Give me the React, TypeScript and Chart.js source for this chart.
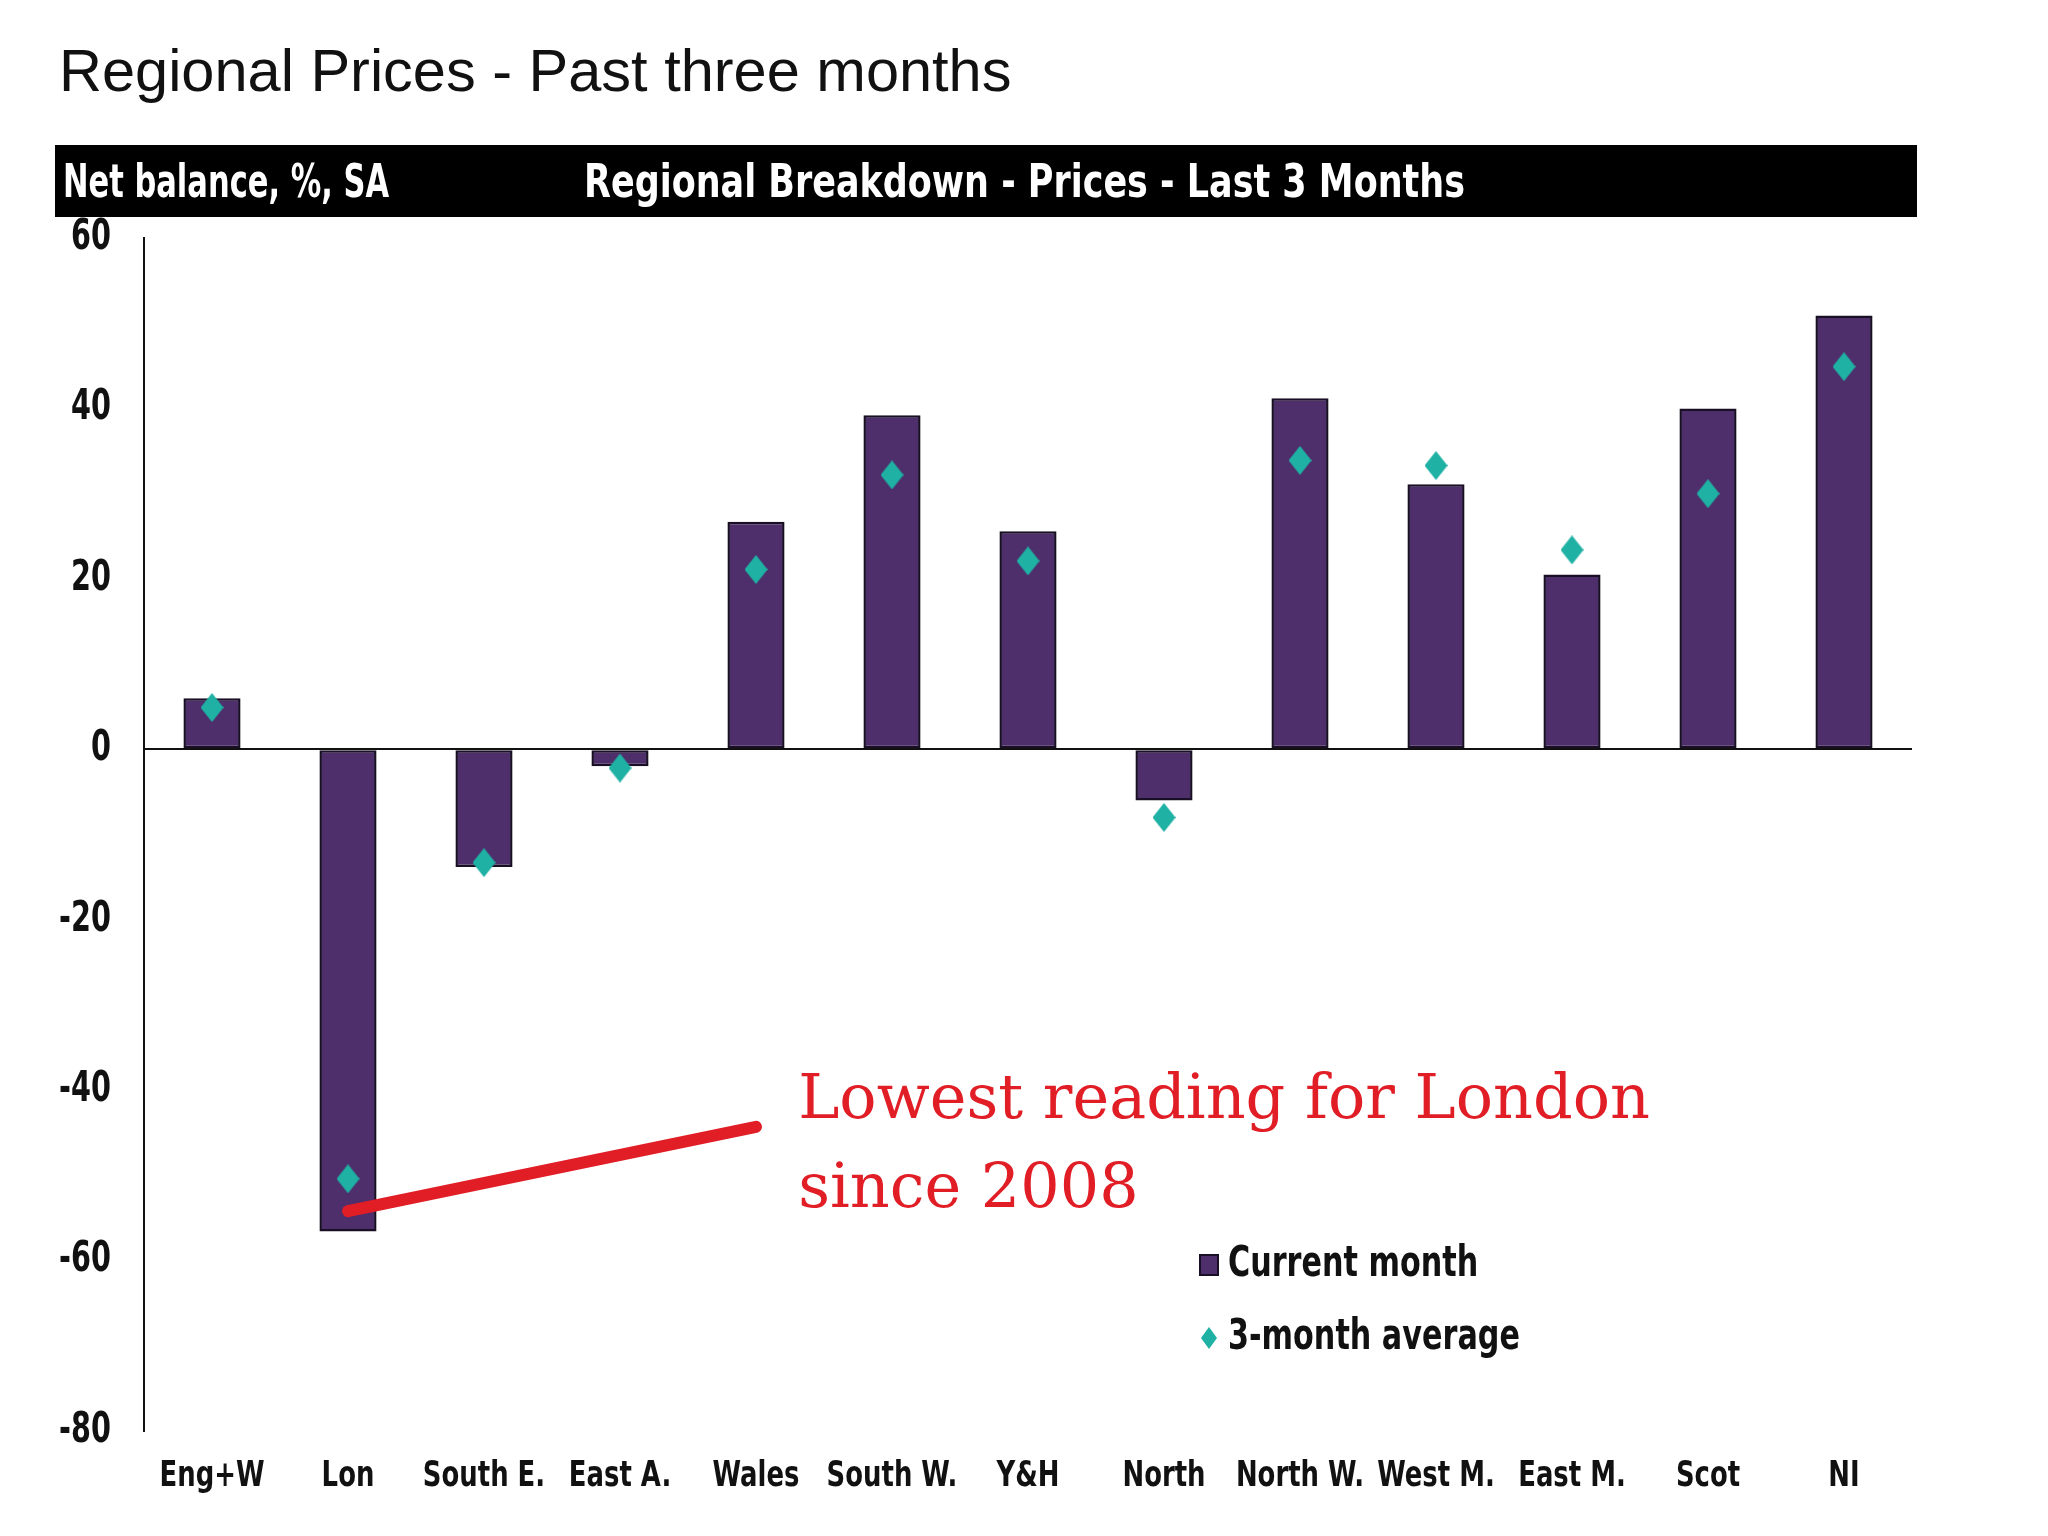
import React, { useEffect, useRef } from "react";
import { Chart, registerables } from "chart.js";

Chart.register(...registerables);

// ---- Data ----
const categories = ["Eng+W", "Lon", "South E.", "East A.", "Wales", "South W.", "Y&H", "North", "North W.", "West M.", "East M.", "Scot", "NI"];
const currentMonth = [6.0, -56.6, -13.8, -2.0, 26.7, 39.2, 25.6, -6.0, 41.2, 31.1, 20.5, 40.0, 50.9];
const threeMonthAverage = [4.9, -50.4, -13.3, -2.2, 21.1, 32.2, 22.1, -8.0, 33.9, 33.3, 23.4, 30.0, 44.9];
const yMin = -80;
const yMax = 60;
const yStep = 20;
const seriesLabels = ["Current month", "3-month average"];
const pageTitle = "Regional Prices - Past three months";
const bannerLeft = "Net balance, %, SA";
const bannerTitle = "Regional Breakdown - Prices - Last 3 Months";
const annotationText = ["Lowest reading for London", "since 2008"];
const annotationFrom = [1, -54.2]; // [category index, value]
const annotationTo = [4, -44.3];
const annotationTextAnchor = [4.31, -43.3]; // [category index, value] of first line baseline

// ---- Styles ----
const COND = "'Liberation Sans Narrow', 'DejaVu Sans Condensed', 'Liberation Sans', sans-serif";
const SANS = "'Liberation Sans', Arial, sans-serif";
const SERIF = "'DejaVu Serif', 'Liberation Serif', serif";
const BAR_COLOR = "#4e2e6b";
const BAR_EDGE = "#1a1026";
const DIAMOND_COLOR = "#1fb1a4";
const RED = "#e11d26";
const INK = "#111";
const SQUEEZE = 0.8;

function makeDiamond(w: number, h: number, color: string) {
  const c = document.createElement("canvas");
  c.width = w;
  c.height = h;
  const g = c.getContext("2d")!;
  g.fillStyle = color;
  g.beginPath();
  g.moveTo(w / 2, 0);
  g.lineTo(w, h / 2);
  g.lineTo(w / 2, h);
  g.lineTo(0, h / 2);
  g.closePath();
  g.fill();
  return c;
}

function squeezedText(
  ctx: CanvasRenderingContext2D,
  text: string,
  x: number,
  y: number,
  font: string,
  sx: number,
  align: CanvasTextAlign,
  baseline: CanvasTextBaseline,
  color: string
) {
  ctx.save();
  ctx.translate(x, y);
  ctx.scale(sx, 1);
  ctx.font = font;
  ctx.textAlign = align;
  ctx.textBaseline = baseline;
  ctx.fillStyle = color;
  ctx.fillText(text, 0, 0);
  ctx.restore();
}

function fittedText(
  ctx: CanvasRenderingContext2D,
  text: string,
  x: number,
  y: number,
  font: string,
  width: number,
  color: string
) {
  ctx.save();
  ctx.font = font;
  const w = ctx.measureText(text).width;
  ctx.restore();
  squeezedText(ctx, text, x, y, font, width / w, "left", "alphabetic", color);
}

const decorPlugin = {
  id: "decor",
  afterDraw(chart: any) {
    const ctx = chart.ctx as CanvasRenderingContext2D;
    const xs = chart.scales.x;
    const ys = chart.scales.y;
    const area = chart.chartArea;
    ctx.save();

    // Axis tick labels (condensed bold)
    ys.ticks.forEach((t: any) => {
      squeezedText(ctx, String(t.value), area.left - 33, ys.getPixelForValue(t.value), `bold 42px ${COND}`, 0.76, "right", "middle", INK);
    });
    categories.forEach((c, i) => {
      squeezedText(ctx, c, xs.getPixelForValue(i), area.bottom + 46, `bold 36px ${COND}`, SQUEEZE, "center", "middle", INK);
    });

    // Page title
    ctx.fillStyle = INK;
    ctx.font = `59.5px ${SANS}`;
    ctx.textAlign = "left";
    ctx.textBaseline = "alphabetic";
    ctx.fillText(pageTitle, 59, 91);

    // Black banner
    ctx.fillStyle = "#000";
    ctx.fillRect(55, 145, 1862, 72);
    fittedText(ctx, bannerLeft, 63, 197, `bold 46px ${COND}`, 326, "#fff");
    fittedText(ctx, bannerTitle, 584, 197, `bold 46px ${COND}`, 881, "#fff");

    // Annotation line
    const x1 = xs.getPixelForValue(annotationFrom[0]);
    const y1 = ys.getPixelForValue(annotationFrom[1]);
    const x2 = xs.getPixelForValue(annotationTo[0]);
    const y2 = ys.getPixelForValue(annotationTo[1]);
    ctx.strokeStyle = RED;
    ctx.lineWidth = 12;
    ctx.lineCap = "round";
    ctx.beginPath();
    ctx.moveTo(x1, y1);
    ctx.lineTo(x2, y2);
    ctx.stroke();

    // Annotation text
    const tx = xs.getPixelForValue(annotationTextAnchor[0]);
    const ty = ys.getPixelForValue(annotationTextAnchor[1]);
    ctx.fillStyle = RED;
    ctx.font = `62px ${SERIF}`;
    ctx.textAlign = "left";
    ctx.textBaseline = "alphabetic";
    annotationText.forEach((t, i) => ctx.fillText(t, tx, ty + i * 89));

    // Legend
    const ds = chart.data.datasets;
    const lx = 1200;
    const ly1 = 1265;
    const ly2 = 1338;
    ctx.fillStyle = ds[0].backgroundColor;
    ctx.fillRect(lx, ly1 - 10, 18, 20);
    ctx.strokeStyle = BAR_EDGE;
    ctx.lineWidth = 2;
    ctx.strokeRect(lx, ly1 - 10, 18, 20);
    ctx.fillStyle = DIAMOND_COLOR;
    ctx.beginPath();
    ctx.moveTo(lx + 9, ly2 - 11);
    ctx.lineTo(lx + 17, ly2);
    ctx.lineTo(lx + 9, ly2 + 11);
    ctx.lineTo(lx + 1, ly2);
    ctx.closePath();
    ctx.fill();
    squeezedText(ctx, ds[0].label, lx + 28, ly1, `bold 42px ${COND}`, SQUEEZE, "left", "middle", INK);
    squeezedText(ctx, ds[1].label, lx + 28, ly2, `bold 42px ${COND}`, SQUEEZE, "left", "middle", INK);

    ctx.restore();
  },
};

export default function App() {
  const ref = useRef<HTMLCanvasElement | null>(null);

  useEffect(() => {
    if (!ref.current) return;
    const diamond = makeDiamond(23, 29, DIAMOND_COLOR);
    const chart = new Chart(ref.current, {
      type: "bar",
      data: {
        labels: categories,
        datasets: [
          {
            type: "bar",
            label: seriesLabels[0],
            data: currentMonth,
            backgroundColor: BAR_COLOR,
            borderColor: BAR_EDGE,
            borderWidth: 2.5,
            borderSkipped: false,
            barPercentage: 0.42,
            categoryPercentage: 1,
            order: 2,
          } as any,
          {
            type: "line",
            label: seriesLabels[1],
            data: threeMonthAverage,
            showLine: false,
            pointStyle: diamond,
            pointRadius: 15,
            backgroundColor: DIAMOND_COLOR,
            borderColor: DIAMOND_COLOR,
            order: 1,
          } as any,
        ],
      },
      options: {
        animation: false,
        responsive: true,
        maintainAspectRatio: false,
        layout: { padding: { top: 238, right: 136, bottom: 0, left: 0 } },
        plugins: {
          legend: { display: false },
          title: { display: false },
          tooltip: { enabled: false },
        },
        scales: {
          x: {
            grid: { display: false },
            border: { display: false },
            ticks: { display: false, autoSkip: false },
            afterFit: (s: any) => {
              s.height = 105;
            },
          },
          y: {
            min: yMin,
            max: yMax,
            ticks: { display: false, stepSize: yStep },
            grid: {
              drawTicks: false,
              lineWidth: 2,
              color: (c: any) => (c.tick && c.tick.value === 0 ? INK : "rgba(0,0,0,0)"),
            },
            border: { display: true, color: INK, width: 2 },
            afterFit: (s: any) => {
              s.width = 144;
            },
          },
        },
      },
      plugins: [decorPlugin],
    });
    return () => chart.destroy();
  }, []);

  return (
    <div style={{ position: "fixed", left: 0, top: 0, width: 2048, height: 1536, background: "#fff" }}>
      <canvas ref={ref} />
    </div>
  );
}
